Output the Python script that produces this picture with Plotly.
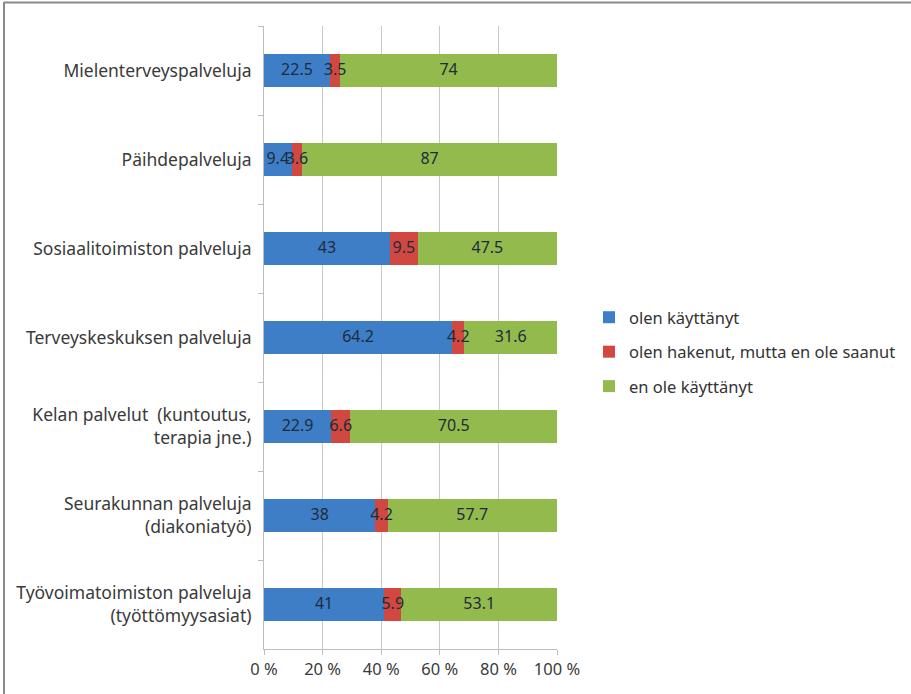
import plotly.graph_objects as go

categories = [
    "Mielenterveyspalveluja",
    "Päihdepalveluja",
    "Sosiaalitoimiston palveluja",
    "Terveyskeskuksen palveluja",
    "Kelan palvelut  (kuntoutus,<br>terapia jne.)",
    "Seurakunnan palveluja<br>(diakoniatyö)",
    "Työvoimatoimiston palveluja<br>(työttömyysasiat)",
]
used = [22.5, 9.4, 43, 64.2, 22.9, 38, 41]
applied_not_got = [3.5, 3.6, 9.5, 4.2, 6.6, 4.2, 5.9]
not_used = [74, 87, 47.5, 31.6, 70.5, 57.7, 53.1]
series_names = ["olen käyttänyt", "olen hakenut, mutta en ole saanut", "en ole käyttänyt"]
x_tick_vals = [0, 20, 40, 60, 80, 100]
x_tick_text = ["0 %", "20 %", "40 %", "60 %", "80 %", "100 %"]

colors = ["#3E7EC6", "#D04840", "#93BA4C"]

W, H = 911, 694
L, R, T, B = 264, 911 - 557, 26, 694 - 649

series = [used, applied_not_got, not_used]
fig = go.Figure()
for i, (name, vals) in enumerate(zip(series_names, series)):
    fig.add_trace(go.Bar(
        y=categories, x=vals, name=name, orientation="h",
        marker=dict(color=colors[i], line=dict(width=0)),
        legendgroup=f"g{i}",
        hoverinfo="skip",
    ))

# data labels drawn on top of all bars (centered on each segment)
base = [0.0] * len(categories)
for i, vals in enumerate(series):
    mids = [b + v / 2 for b, v in zip(base, vals)]
    fig.add_trace(go.Scatter(
        x=mids, y=categories, mode="text",
        text=[f"{v:g}" for v in vals],
        textposition="middle center",
        textfont=dict(family="Noto Sans", size=16, color="#1E2B3C"),
        showlegend=False, hoverinfo="skip", cliponaxis=False,
    ))
    base = [b + v for b, v in zip(base, vals)]

pw = W - L - R
ph = H - T - B
def px_x(p):
    return (p - L) / pw
def px_y(p):
    return (H - B - p) / ph

fig.update_layout(
    width=W, height=H,
    barmode="stack", bargap=0.62,
    margin=dict(l=L, r=R, t=T, b=B, pad=0, autoexpand=False),
    paper_bgcolor="white", plot_bgcolor="white",
    font=dict(family="Noto Sans", size=16, color="#3A3A3A"),
    showlegend=True,
    legend=dict(
        x=px_x(589), y=px_y(352), xanchor="left", yanchor="middle",
        font=dict(family="Noto Sans", size=16.5, color="#333333"),
        traceorder="grouped", tracegroupgap=10,
        itemwidth=30, bgcolor="rgba(0,0,0,0)",
    ),
    xaxis=dict(
        range=[0, 100], tickvals=x_tick_vals, ticktext=x_tick_text,
        showgrid=True, gridcolor="#C8C8C8", gridwidth=1,
        showline=True, linecolor="#BDBDBD", linewidth=1,
        ticks="outside", ticklen=5, tickcolor="#BDBDBD",
        tickfont=dict(family="Noto Sans", size=16.5, color="#3A3A3A"),
        zeroline=False, fixedrange=True,
    ),
    yaxis=dict(
        autorange="reversed", type="category",
        showgrid=False, showline=True, linecolor="#BDBDBD", linewidth=1,
        ticks="outside", ticklen=5, tickcolor="#BDBDBD", tickson="boundaries",
        tickfont=dict(family="Noto Sans", size=17.5, color="#3A3A3A"),
        ticklabelstandoff=8,
    ),
    shapes=[
        dict(type="line", xref="paper", yref="paper",
             x0=px_x(4), x1=px_x(911), y0=px_y(2.5), y1=px_y(2.5),
             line=dict(color="#8A8A8A", width=2)),
        dict(type="line", xref="paper", yref="paper",
             x0=px_x(4), x1=px_x(4), y0=px_y(2), y1=px_y(694),
             line=dict(color="#8A8A8A", width=2)),
    ],
)

fig.write_html(
    "out.html",
    config={"displayModeBar": False},
    post_script="document.body.style.margin='0';document.body.style.overflow='hidden';",
)
